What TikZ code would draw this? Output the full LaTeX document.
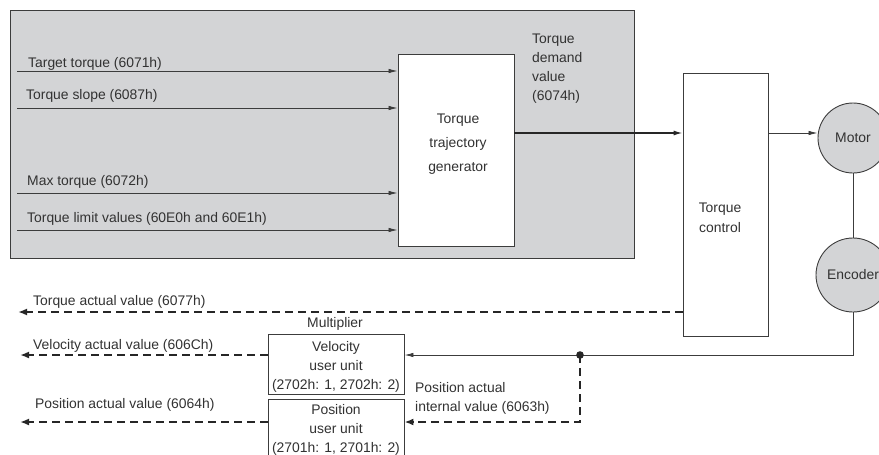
\documentclass[tikz,border=0pt]{standalone}
\usepackage{fontspec}
\setmainfont{Liberation Sans}
\usetikzlibrary{arrows.meta}
\definecolor{bggray}{RGB}{211,212,214}
\definecolor{ln}{RGB}{60,60,60}
\definecolor{tx}{RGB}{50,50,50}
\begin{document}
\begin{tikzpicture}[x=1pt,y=-1pt,
  font=\fontsize{13.9}{19}\selectfont, text=tx,
  lbl/.style={inner sep=0, anchor=base west},
  ctext/.style={inner sep=0, anchor=base, align=center},
  blk/.style={draw=ln, line width=0.9pt, fill=white, inner sep=0},
  circ/.style={circle, draw=ln, line width=0.9pt, fill=bggray, inner sep=0},
  inarrow/.style={draw=ln, line width=0.8pt, -{Latex[length=9pt,width=4.5pt]}},
  mainarrow/.style={draw=black!85, line width=1.3pt, -{Latex[length=9pt,width=5pt]}},
  dasharrow/.style={draw=black!85, line width=1.9pt, dash pattern=on 8pt off 5pt, -{Latex[length=9pt,width=7pt]}},
  fb/.style={draw=ln, line width=0.9pt}]
\useasboundingbox (0,0) rectangle (879,455);
\clip (0,0) rectangle (879,455);

% shaded area
\node[draw=ln, line width=1pt, fill=bggray, minimum width=624, minimum height=248, inner sep=0] (area) at (322,134) {};

% blocks
\node[blk, minimum width=116, minimum height=192] (traj) at (456,150) {};
\node[ctext, font=\fontsize{13.9}{24}\selectfont] (trajtext) at (458,171.5) {Torque\\trajectory\\generator};
\node[blk, minimum width=85, minimum height=263] (tc) at (725.5,204.5) {};
\node[ctext, font=\fontsize{13.9}{20}\selectfont] (tctext) at (720,232) {Torque\\control};
\node[circ, minimum size=70] (motor) at (853,138) {Motor};
\node[circ, minimum size=74] (enc) at (853,275) {Encoder};
\node[blk, minimum width=136, minimum height=60] (vel) at (336,364) {};
\node[ctext] (veltext) at (336,389.5) {Velocity\\user unit\\(2702h: 1, 2702h: 2)};
\node[blk, minimum width=136, minimum height=62] (pos) at (336,430) {};
\node[ctext] (postext) at (336,452.5) {Position\\user unit\\(2701h: 1, 2701h: 2)};
\node[ctext] (mult) at (335,327.5) {Multiplier};

% labels
\node[lbl] (l1) at (28,67.5) {Target torque (6071h)};
\node[lbl] (l2) at (26,99.5) {Torque slope (6087h)};
\node[lbl] (l3) at (27,185.5) {Max torque (6072h)};
\node[lbl] (l4) at (27,222) {Torque limit values (60E0h and 60E1h)};
\node[lbl, align=left] (tdv) at (532,100) {Torque\\demand\\value\\(6074h)};
\node[lbl] (l5) at (33,305.5) {Torque actual value (6077h)};
\node[lbl] (l6) at (33,349.5) {Velocity actual value (606Ch)};
\node[lbl] (l7) at (35,408.5) {Position actual value (6064h)};
\node[lbl, align=left] (pai) at (415,411.5) {Position actual\\internal value (6063h)};

% coordinates
\coordinate (i1) at (17,71);
\coordinate (i2) at (17,108);
\coordinate (i3) at (17,193);
\coordinate (i4) at (17,230);
\coordinate (yd) at (0,133);
\coordinate (ya) at (0,312);
\coordinate (yf) at (0,355);
\coordinate (yp) at (0,422);
\coordinate (ta) at (18,312);
\coordinate (va) at (20,355);
\coordinate (pa) at (20,422);
\coordinate (split) at (580,355);

% connectors
\draw[inarrow] (i1) -- (i1 -| traj.west);
\draw[inarrow] (i2) -- (i2 -| traj.west);
\draw[inarrow] (i3) -- (i3 -| traj.west);
\draw[inarrow] (i4) -- (i4 -| traj.west);
\draw[mainarrow] (traj.east |- yd) -- (tc.west |- yd);
\draw[inarrow] (tc.east |- yd) -- (motor.west |- yd);
\draw[fb] (motor.south) -- (enc.north);
\draw[fb, -{Latex[length=9pt,width=4.5pt]}] (enc.south) -- (enc.south |- yf) -- (vel.east |- yf);
\fill[black!85] (split) circle (3.8);
\draw[dasharrow] (split) -- (split |- yp) -- (pos.east |- yp);
\draw[dasharrow] (tc.west |- ya) -- (ta);
\draw[dasharrow] (vel.west |- yf) -- (va);
\draw[dasharrow] (pos.west |- yp) -- (pa);
\end{tikzpicture}
\end{document}
